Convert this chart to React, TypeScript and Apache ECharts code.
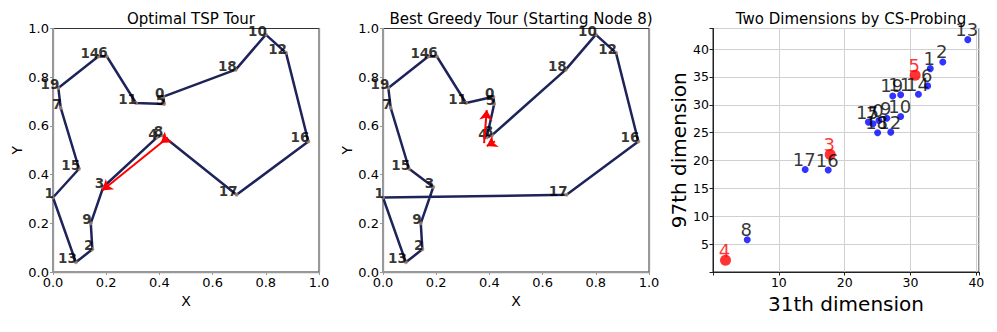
import React, { useEffect, useRef } from 'react';
import * as echarts from 'echarts';

// TSP node coordinates (index = node id)
const NODE_X = [0.415, 0.0, 0.148, 0.189, 0.39, 0.418, 0.202, 0.029, 0.41, 0.142, 0.80, 0.312, 0.876, 0.086, 0.17, 0.098, 0.96, 0.69, 0.687, 0.02];
const NODE_Y = [0.72, 0.306, 0.093, 0.349, 0.552, 0.69, 0.886, 0.674, 0.562, 0.2, 0.975, 0.694, 0.90, 0.04, 0.885, 0.424, 0.536, 0.317, 0.831, 0.756];

// Tours (closed)
const OPTIMAL_TOUR = [8, 4, 3, 9, 2, 13, 1, 15, 7, 19, 14, 6, 11, 5, 0, 18, 10, 12, 16, 17, 8];
const GREEDY_TOUR = [8, 4, 5, 0, 11, 6, 14, 19, 7, 15, 3, 9, 2, 13, 1, 17, 16, 12, 10, 18, 8];

// Direction arrows (data coordinates: [from, to])
const OPTIMAL_ARROWS = [
  [[0.412, 0.535], [0.185, 0.335]],
  [[0.432, 0.552], [0.405, 0.53]],
];
const GREEDY_ARROWS = [
  [[0.38, 0.529], [0.39, 0.665]],
  [[0.421, 0.536], [0.39, 0.517]],
];

// CS-probing 2D embedding (index = node id)
const CS_X = [25.2, 33.0, 34.9, 17.8, 1.9, 30.7, 32.6, 24.3, 5.2, 26.4, 28.5, 28.5, 27.0, 38.7, 31.2, 23.6, 17.5, 14.0, 25.0, 27.3];
const CS_Y = [27.2, 36.5, 37.7, 21.1, 2.1, 35.3, 33.4, 26.6, 5.8, 27.6, 27.9, 31.8, 25.1, 41.7, 31.9, 26.9, 18.3, 18.4, 25.0, 31.6];
const RED_NODES = [3, 4, 5];

const TITLES = ['Optimal TSP Tour', 'Best Greedy Tour (Starting Node 8)', 'Two Dimensions by CS-Probing'];

const FONT = 'DejaVu Sans';
const NAVY = '#1e2459';

export default function App() {
  const ref = useRef<HTMLDivElement>(null);

  useEffect(() => {
    if (!ref.current) return;
    const chart = echarts.init(ref.current, undefined, { renderer: 'svg' });

    const grids = [
      { left: 53, top: 28.5, width: 266, height: 243.5 },
      { left: 383, top: 28.5, width: 266, height: 243.5 },
      { left: 713, top: 28.5, width: 266, height: 243.5 },
    ];

    const tspX = (g: number) => ({
      type: 'value', gridIndex: g, min: 0, max: 1, interval: 0.2,
      axisLine: { show: true, onZero: false, lineStyle: { color: '#999', width: 1.3 } },
      axisTick: { show: true, length: 3, lineStyle: { color: '#999' } },
      axisLabel: { formatter: (v: number) => v.toFixed(1), fontSize: 13, color: '#000', margin: 4, fontFamily: FONT },
      splitLine: { show: false },
      name: 'X', nameLocation: 'middle', nameGap: 18,
      nameTextStyle: { fontSize: 14, color: '#000', fontFamily: FONT },
    });
    const tspY = (g: number) => ({
      type: 'value', gridIndex: g, min: 0, max: 1, interval: 0.2,
      axisLine: { show: true, onZero: false, lineStyle: { color: '#999', width: 1.3 } },
      axisTick: { show: true, length: 3, lineStyle: { color: '#999' } },
      axisLabel: { formatter: (v: number) => v.toFixed(1), fontSize: 13, color: '#000', margin: 4, fontFamily: FONT },
      splitLine: { show: false },
      name: 'Y', nameLocation: 'middle', nameGap: 29,
      nameTextStyle: { fontSize: 14, color: '#000', fontFamily: FONT },
    });
    const rightSpine = (g: number) => ({
      type: 'value', gridIndex: g, min: 0, max: 1, position: 'right',
      axisLine: { show: true, onZero: false, lineStyle: { color: '#999', width: 1.3 } },
      axisTick: { show: false }, axisLabel: { show: false }, splitLine: { show: false },
    });

    const tourLine = (tour: number[], g: number) => ({
      type: 'line', xAxisIndex: g, yAxisIndex: g,
      data: tour.map((i) => [NODE_X[i], NODE_Y[i]]),
      showSymbol: false, symbol: 'none',
      lineStyle: { color: NAVY, width: 2.5 }, z: 2,
    });
    const nodes = (g: number) => ({
      type: 'scatter', xAxisIndex: g, yAxisIndex: g,
      data: NODE_X.map((x, i) => [x, NODE_Y[i], i]),
      symbolSize: 4,
      itemStyle: { color: '#b08a68' },
      z: 3,
      label: {
        show: true,
        formatter: (p: any) => String(p.value[2]),
        position: ['50%', '50%'], align: 'right', verticalAlign: 'bottom', offset: [1, 3],
        fontSize: 13.5, fontWeight: 'bold', color: '#000', fontFamily: FONT,
      },
    });
    const arrows = (arr: number[][][], g: number) => ({
      type: 'lines', coordinateSystem: 'cartesian2d', xAxisIndex: g, yAxisIndex: g,
      data: arr.map((a) => ({ coords: a })),
      symbol: ['none', 'arrow'], symbolSize: 10,
      lineStyle: { color: '#ff0000', width: 2, opacity: 1 }, z: 5,
    });

    const option: any = {
      animation: false,
      backgroundColor: '#fff',
      title: TITLES.map((t, i) => ({
        text: t, left: grids[i].left + grids[i].width / 2, top: 6, textAlign: 'center',
        textStyle: { fontSize: 15, fontWeight: 'normal', color: '#000', fontFamily: FONT },
      })),
      grid: grids.map((g, i) => ({ ...g, show: true, borderColor: i < 2 ? '#333' : '#222', borderWidth: 1, backgroundColor: 'transparent' })),
      xAxis: [
        tspX(0), tspX(1),
        {
          type: 'value', gridIndex: 2, min: 0, max: 40.4, interval: 10,
          axisLine: { show: true, onZero: false, lineStyle: { color: '#222', width: 1 } },
          axisTick: { show: true, length: 3.5, lineStyle: { color: '#222' } },
          axisLabel: {
            formatter: (v: number) => (v !== 0 && Math.abs(v % 10) < 1e-6 ? String(v) : ''),
            fontSize: 12.5, color: '#000', margin: 4, fontFamily: FONT,
          },
          splitLine: { show: true, lineStyle: { color: '#d0d0d0', width: 1 } },
          name: '31th dimension', nameLocation: 'middle', nameGap: 17,
          nameTextStyle: { fontSize: 20, color: '#000', fontFamily: FONT },
        },
      ],
      yAxis: [
        tspY(0), tspY(1),
        {
          type: 'value', gridIndex: 2, min: 0, max: 43.7, interval: 5,
          axisLine: { show: true, onZero: false, lineStyle: { color: '#222', width: 1 } },
          axisTick: { show: true, length: 3.5, lineStyle: { color: '#222' } },
          axisLabel: {
            formatter: (v: number) => (v !== 0 && Math.abs(v % 5) < 1e-6 ? String(v) : ''),
            fontSize: 12.5, color: '#000', margin: 4, fontFamily: FONT,
          },
          splitLine: { show: true, lineStyle: { color: '#d0d0d0', width: 1 } },
          name: '97th dimension', nameLocation: 'middle', nameGap: 23,
          nameTextStyle: { fontSize: 20, color: '#000', fontFamily: FONT },
        },
        rightSpine(0), rightSpine(1),
      ],
      series: [
        tourLine(OPTIMAL_TOUR, 0), nodes(0), arrows(OPTIMAL_ARROWS, 0),
        tourLine(GREEDY_TOUR, 1), nodes(1), arrows(GREEDY_ARROWS, 1),
        {
          type: 'scatter', xAxisIndex: 2, yAxisIndex: 2,
          data: CS_X.map((x, i) => {
            const red = RED_NODES.includes(i);
            return {
              value: [x, CS_Y[i], i],
              symbolSize: red ? 11 : 7,
              itemStyle: { color: red ? '#ff0000' : '#0000ff' },
              label: { color: red ? '#ff0000' : '#000' },
            };
          }),
          z: 3,
          label: {
            show: true,
            formatter: (p: any) => String(p.value[2]),
            position: ['50%', '50%'], align: 'center', verticalAlign: 'bottom', offset: [-1, -1],
            fontSize: 18, fontFamily: FONT,
          },
        },
      ],
    };

    chart.setOption(option);
    return () => chart.dispose();
  }, []);

  return <div ref={ref} style={{ position: 'absolute', left: 0, top: 0, width: 997, height: 332, background: '#fff' }} />;
}
